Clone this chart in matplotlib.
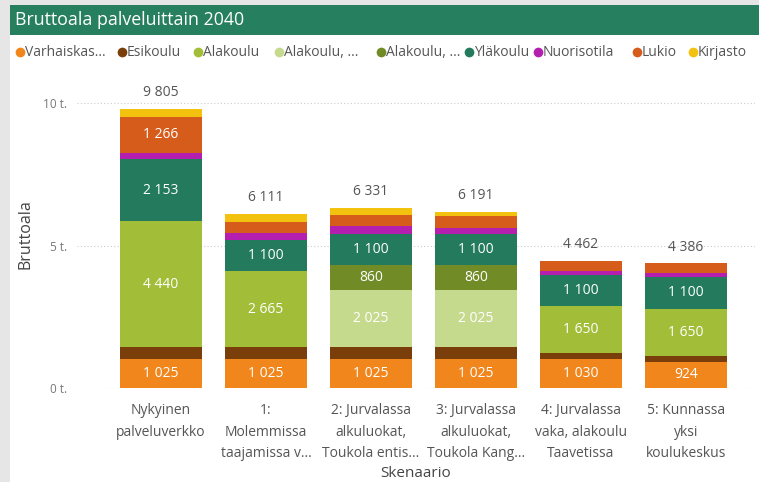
import matplotlib
matplotlib.use("Agg")
import matplotlib.pyplot as plt
from matplotlib.patches import Rectangle
from matplotlib.lines import Line2D

plt.rcParams['font.family'] = ['Open Sans', 'DejaVu Sans']

categories = ["Nykyinen\npalveluverkko", "1:\nMolemmissa\ntaajamissa v...",
              "2: Jurvalassa\nalkuluokat,\nToukola entis...", "3: Jurvalassa\nalkuluokat,\nToukola Kang...",
              "4: Jurvalassa\nvaka, alakoulu\nTaavetissa", "5: Kunnassa\nyksi\nkoulukeskus"]
series_names = ["Varhaiskas...", "Esikoulu", "Alakoulu", "Alakoulu, ...", "Alakoulu, ...",
                "Yläkoulu", "Nuorisotila", "Lukio", "Kirjasto"]
varhaiskasvatus = [1025, 1025, 1025, 1025, 1030, 924]
esikoulu = [400, 400, 400, 400, 200, 210]
alakoulu = [4440, 2665, 0, 0, 1650, 1650]
alakoulu_b = [0, 0, 2025, 2025, 0, 0]
alakoulu_c = [0, 0, 860, 860, 0, 0]
ylakoulu = [2153, 1100, 1100, 1100, 1100, 1100]
nuorisotila = [230, 260, 260, 220, 130, 140]
lukio = [1266, 390, 390, 390, 352, 362]
kirjasto = [291, 271, 271, 171, 0, 0]
series = [varhaiskasvatus, esikoulu, alakoulu, alakoulu_b, alakoulu_c,
          ylakoulu, nuorisotila, lukio, kirjasto]
colors = ["#F0861C", "#7A3E0B", "#A2BD38", "#C6DA8E", "#718C26",
          "#237A5C", "#B51FB0", "#D55C1A", "#F3C20F"]
yticks = [0, 5000, 10000]
ytick_labels = ["0 t.", "5 t.", "10 t."]

W, H = 759, 482
fig = plt.figure(figsize=(W / 100, H / 100), dpi=100)
fig.patch.set_facecolor("#E6E6E6")
# white panel and title bar
fig.add_artist(Rectangle((10 / W, 0), 1 - 10 / W, (H - 35) / H, transform=fig.transFigure,
                         facecolor="white", edgecolor="none", zorder=0))
fig.add_artist(Rectangle((10 / W, (H - 35) / H), 1 - 10 / W, 30 / H, transform=fig.transFigure,
                         facecolor="#26805F", edgecolor="none", zorder=0))
fig.text(15 / W, (H - 20) / H, "Bruttoala palveluittain 2040", color="white",
         fontsize=12.8, va="center", ha="left")

# legend
legend_x = [20, 122, 198, 279, 381, 469, 538, 637, 693]
ly = (H - 52) / H
for x, name, c in zip(legend_x, series_names, colors):
    fig.add_artist(Line2D([x / W], [ly], marker="o", ms=7, color=c, mec="none",
                          transform=fig.transFigure))
    fig.text((x + 5) / W, ly, name, color="#555555", fontsize=10, va="center", ha="left")

ax = fig.add_axes([77 / W, (H - 388) / H, (755 - 77) / W, (388 - 80) / H])
ax.set_facecolor("none")
x = list(range(len(categories)))
bottom = [0] * len(categories)
for vals, c in zip(series, colors):
    ax.bar(x, vals, bottom=bottom, width=0.78, color=c, zorder=2)
    for i, v in enumerate(vals):
        if v >= 800:
            ax.text(i, bottom[i] + v / 2, f"{v:,}".replace(",", " "), ha="center", va="center",
                    color="white", fontsize=10, zorder=3)
    bottom = [b + v for b, v in zip(bottom, vals)]
for i, t in enumerate(bottom):
    ax.annotate(f"{t:,}".replace(",", " "), (i, t), xytext=(0, 11.5), textcoords="offset points",
                ha="center", va="center", color="#555555", fontsize=10, annotation_clip=False)

ax.set_xlim(-0.8, 5.657)
ax.set_ylim(0, 308 / 0.0285)
ax.set_yticks(yticks)
ax.set_yticklabels(ytick_labels, color="#777777", fontsize=8.5)
ax.set_xticks(x)
ax.set_xticklabels(categories, color="#555555", fontsize=10, linespacing=1.6)
ax.tick_params(axis="both", length=0)
ax.tick_params(axis="y", pad=7)
ax.tick_params(axis="x", pad=11)
for s in ax.spines.values():
    s.set_visible(False)
ax.grid(axis="y", linestyle=(0, (1, 2)), color="#CCCCCC", linewidth=0.8, zorder=0)
ax.set_ylabel("Bruttoala", color="#444444", fontsize=11.5, labelpad=7)
ax.set_xlabel("Skenaario", color="#444444", fontsize=11, labelpad=3)

fig.savefig("out.png", dpi=100, facecolor=fig.get_facecolor())
